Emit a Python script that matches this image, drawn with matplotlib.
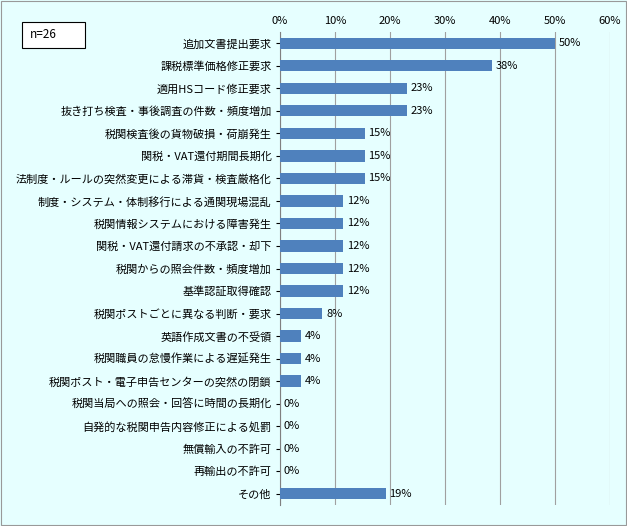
import matplotlib
matplotlib.use("Agg")
import matplotlib.pyplot as plt
from matplotlib.patches import Rectangle

plt.rcParams["font.family"] = "Noto Sans CJK JP"

categories = ["追加文書提出要求", "課税標準価格修正要求", "適用HSコード修正要求",
              "抜き打ち検査・事後調査の件数・頻度増加", "税関検査後の貨物破損・荷崩発生",
              "関税・VAT還付期間長期化", "法制度・ルールの突然変更による滞貨・検査厳格化",
              "制度・システム・体制移行による通関現場混乱", "税関情報システムにおける障害発生",
              "関税・VAT還付請求の不承認・却下", "税関からの照会件数・頻度増加", "基準認証取得確認",
              "税関ポストごとに異なる判断・要求", "英語作成文書の不受領", "税関職員の怠慢作業による遅延発生",
              "税関ポスト・電子申告センターの突然の閉鎖", "税関当局への照会・回答に時間の長期化",
              "自発的な税関申告内容修正による処罰", "無償輸入の不許可", "再輸出の不許可", "その他"]
values = [50.0, 38.5, 23.1, 23.1, 15.4, 15.4, 15.4, 11.5, 11.5, 11.5, 11.5, 11.5,
          7.7, 3.8, 3.8, 3.8, 0, 0, 0, 0, 19.2]
xticks = [0, 10, 20, 30, 40, 50, 60]

bg = "#E6FFFF"
fig = plt.figure(figsize=(6.27, 5.26), dpi=100, facecolor=bg)
ax = fig.add_axes([280/627, 1-505/526, 330/627, 473/526])
ax.set_facecolor(bg)
y = list(range(len(categories)))
ax.barh(y, values, height=0.5, color="#4F81BD", zorder=3)
for yi, v in zip(y, values):
    ax.text(v + 0.7, yi, f"{v:.0f}%", va="center", ha="left", fontsize=8, zorder=4)
ax.set_xlim(0, 60)
ax.set_ylim(len(categories) - 0.5, -0.5)
ax.set_yticks(y)
ax.set_yticklabels(categories, fontsize=8)
ax.set_xticks(xticks)
ax.set_xticklabels([f"{t}%" for t in xticks], fontsize=8)
ax.xaxis.tick_top()
ax.tick_params(axis="x", length=0, pad=4)
ax.tick_params(axis="y", length=3, pad=3)
ax.grid(axis="x", color="#A0A0A0", lw=0.8, zorder=0)
for s in ["top", "right", "bottom"]:
    ax.spines[s].set_visible(False)
ax.spines["left"].set_color("#808080")

fig.patches.append(Rectangle((22/627, 1-48/526), 63/627, 26/526, transform=fig.transFigure,
                             facecolor="white", edgecolor="black", lw=0.8))
fig.text(30/627, 1-35/526, "n=26", fontsize=8.5, va="center", ha="left")
fig.patches.append(Rectangle((0.002, 0.002), 0.996, 0.996, transform=fig.transFigure,
                             facecolor="none", edgecolor="#999999", lw=0.8))
fig.savefig("out.png", dpi=100, facecolor=bg)
